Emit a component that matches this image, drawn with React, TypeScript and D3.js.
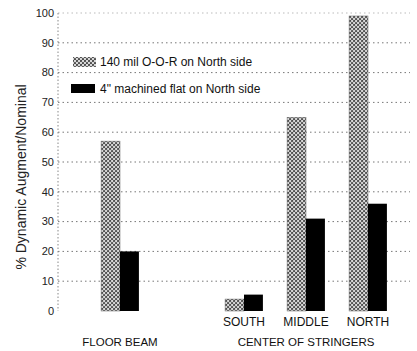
import React from 'react';
import * as d3 from 'd3';

// values
const slots = ['FLOOR BEAM', 'GAP', 'SOUTH', 'MIDDLE', 'NORTH'];
const categories = ['FLOOR BEAM', 'SOUTH', 'MIDDLE', 'NORTH'];
const oorValues = [57, 4, 65, 99];
const flatValues = [20, 5.5, 31, 36];
const seriesNames = ['140 mil O-O-R on North side', '4" machined flat on North side'];
const yTicks = [0, 10, 20, 30, 40, 50, 60, 70, 80, 90, 100];

const W = 417;
const H = 351;
const font = 'Liberation Sans, Arial, sans-serif';

export default function App() {
    const y = d3.scaleLinear().domain([0, 100]).range([311, 13]);
    const x0 = d3.scaleBand().domain(slots).range([89, 399]).paddingInner(0.39).paddingOuter(0.195);
    const x1 = d3.scaleBand().domain(['oor', 'flat']).range([0, x0.bandwidth()]);
    const axisX = 58;

    const bars = categories.map((c, i) => ({c, oor: oorValues[i], flat: flatValues[i]}));

    return (
        <svg width={W} height={H} style={{position: 'absolute', left: 0, top: 0, background: '#fff'}}>
            <defs>
                <pattern id="dots" width="4" height="4" patternUnits="userSpaceOnUse">
                    <rect width="4" height="4" fill="#d8d8d8"/>
                    <circle cx="1" cy="1" r="1.1" fill="#444"/>
                    <circle cx="3" cy="3" r="1.1" fill="#444"/>
                </pattern>
            </defs>
            <rect width={W} height={H} fill="#fff"/>

            {/* grid lines */}
            {yTicks.filter(t => t > 0).map(t => (
                <line key={t} x1={axisX} x2={410} y1={y(t)} y2={y(t)}
                      stroke={t === 100 ? '#bbb' : '#777'} strokeWidth={1} strokeDasharray="1.5,3"/>
            ))}
            <line x1={axisX} x2={axisX} y1={y(100)} y2={y(0)} stroke="#888" strokeWidth={1} strokeDasharray="1.5,2"/>

            {/* tick labels */}
            {yTicks.map(t => (
                <text key={t} x={axisX - 4} y={y(t)} dy="0.35em" textAnchor="end"
                      fontFamily={font} fontSize={11} fill="#222">{t}</text>
            ))}

            {/* bars */}
            {bars.map(b => (
                <g key={b.c} transform={`translate(${x0(b.c)},0)`}>
                    <rect x={x1('oor')} y={y(b.oor)} width={x1.bandwidth()} height={y(0) - y(b.oor)}
                          fill="url(#dots)" stroke="#666" strokeWidth={0.5}/>
                    <rect x={x1('flat')} y={y(b.flat)} width={x1.bandwidth()} height={y(0) - y(b.flat)}
                          fill="#000"/>
                </g>
            ))}

            {/* category labels */}
            {categories.slice(1).map(c => (
                <text key={c} x={(x0(c) as number) + x0.bandwidth() / 2} y={326} textAnchor="middle"
                      fontFamily={font} fontSize={12} fill="#111">{c}</text>
            ))}
            <text x={(x0('FLOOR BEAM') as number) + x0.bandwidth() / 2} y={346} textAnchor="middle"
                  fontFamily={font} fontSize={11.5} fill="#111">FLOOR BEAM</text>
            <text x={(x0('MIDDLE') as number) + x0.bandwidth() / 2} y={346} textAnchor="middle"
                  fontFamily={font} fontSize={11.5} fill="#111">CENTER OF STRINGERS</text>

            {/* legend */}
            <rect x={73} y={57} width={23} height={10} fill="url(#dots)"/>
            <text x={100} y={62} dy="0.35em" fontFamily={font} fontSize={12} fill="#111">{seriesNames[0]}</text>
            <rect x={71} y={84} width={24} height={9} fill="#000"/>
            <text x={100} y={89} dy="0.35em" fontFamily={font} fontSize={12} fill="#111">{seriesNames[1]}</text>

            {/* y title */}
            <text transform={`translate(26,177) rotate(-90)`} textAnchor="middle"
                  fontFamily={font} fontSize={14} fill="#222">% Dynamic Augment/Nominal</text>
        </svg>
    );
}
